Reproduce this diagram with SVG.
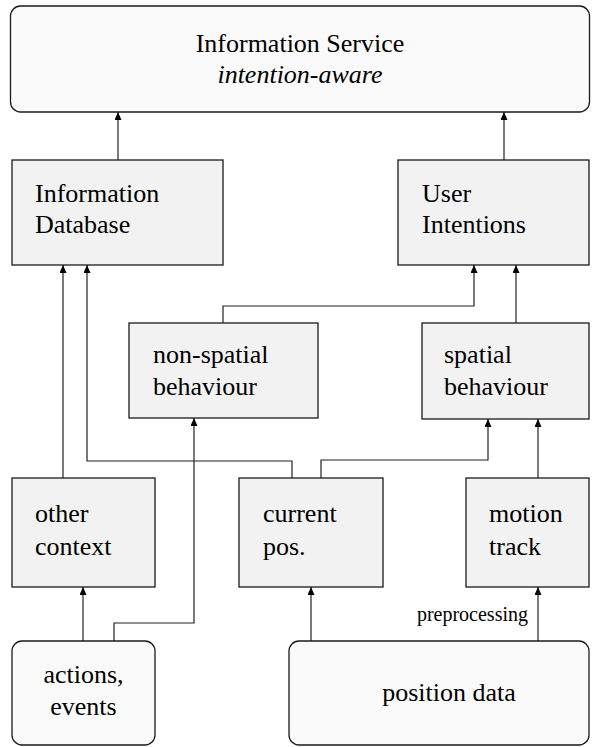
<svg xmlns="http://www.w3.org/2000/svg" width="600" height="747" viewBox="0 0 600 747" font-family="'Liberation Serif', serif">
<defs>
<marker id="ah" viewBox="0 0 8 7" refX="8" refY="3.5" markerWidth="8" markerHeight="7" markerUnits="userSpaceOnUse" orient="auto"><path d="M0,0 L8,3.5 L0,7 z" fill="#000"/></marker>
<style>
.box{fill:#f2f2f2;stroke:#1a1a1a;stroke-width:1.3}
.rbox{fill:#fafafa;stroke:#1a1a1a;stroke-width:1.3}
.t{font-family:"Liberation Serif","Times New Roman",serif;font-size:26px;fill:#000}
.c{text-anchor:middle}
.it{font-style:italic}
.sm{font-family:"Liberation Serif","Times New Roman",serif;font-size:20px;text-anchor:end;fill:#000}
.ln{fill:none;stroke:#222;stroke-width:1.2;marker-end:url(#ah)}
</style>
</defs>
<rect width="600" height="747" fill="#fff"/>
<g id="info-service"><rect class="rbox" x="10.5" y="6" width="579" height="106" rx="10"/><text class="t c" x="300" y="52">Information Service</text><text class="t c it" x="300" y="83">intention-aware</text></g>
<g id="info-db"><rect class="box" x="12" y="160" width="211" height="105"/><text class="t" x="35" y="202">Information</text><text class="t" x="35" y="233">Database</text></g>
<g id="user-intentions"><rect class="box" x="398" y="160" width="191" height="105"/><text class="t" x="422" y="202">User</text><text class="t" x="422" y="233">Intentions</text></g>
<g id="non-spatial"><rect class="box" x="129" y="323" width="189" height="95"/><text class="t" x="153" y="363">non-spatial</text><text class="t" x="153" y="395">behaviour</text></g>
<g id="spatial"><rect class="box" x="422" y="323" width="167" height="96"/><text class="t" x="444" y="363">spatial</text><text class="t" x="444" y="395">behaviour</text></g>
<g id="other-context"><rect class="box" x="12" y="478" width="143" height="109"/><text class="t" x="35" y="522">other</text><text class="t" x="35" y="555">context</text></g>
<g id="current-pos"><rect class="box" x="239" y="478" width="144" height="109"/><text class="t" x="263" y="522">current</text><text class="t" x="263" y="555">pos.</text></g>
<g id="motion-track"><rect class="box" x="466" y="478" width="123" height="109"/><text class="t" x="489" y="522">motion</text><text class="t" x="489" y="555">track</text></g>
<g id="actions-events"><rect class="rbox" x="12" y="641" width="143" height="104" rx="10"/><text class="t c" x="83.5" y="683">actions,</text><text class="t c" x="83.5" y="715">events</text></g>
<g id="position-data"><rect class="rbox" x="289" y="641" width="300" height="104" rx="10"/><text class="t c" x="449" y="701">position data</text></g>
<g id="connectors">
<path class="ln" d="M118,160 V112"/>
<path class="ln" d="M504,160 V112"/>
<path class="ln" d="M63,478 V265"/>
<path class="ln" d="M292,478 V461 H87 V265"/>
<path class="ln" d="M223,323 V306 H474 V265"/>
<path class="ln" d="M516,323 V265"/>
<path class="ln" d="M321,478 V460 H488 V419"/>
<path class="ln" d="M538,478 V419"/>
<path class="ln" d="M83,641 V587"/>
<path class="ln" d="M114,641 V623 H194 V418"/>
<path class="ln" d="M311,641 V587"/>
<path class="ln" d="M538,641 V587"/>
<text class="sm" x="528" y="621">preprocessing</text>
</g>
</svg>
